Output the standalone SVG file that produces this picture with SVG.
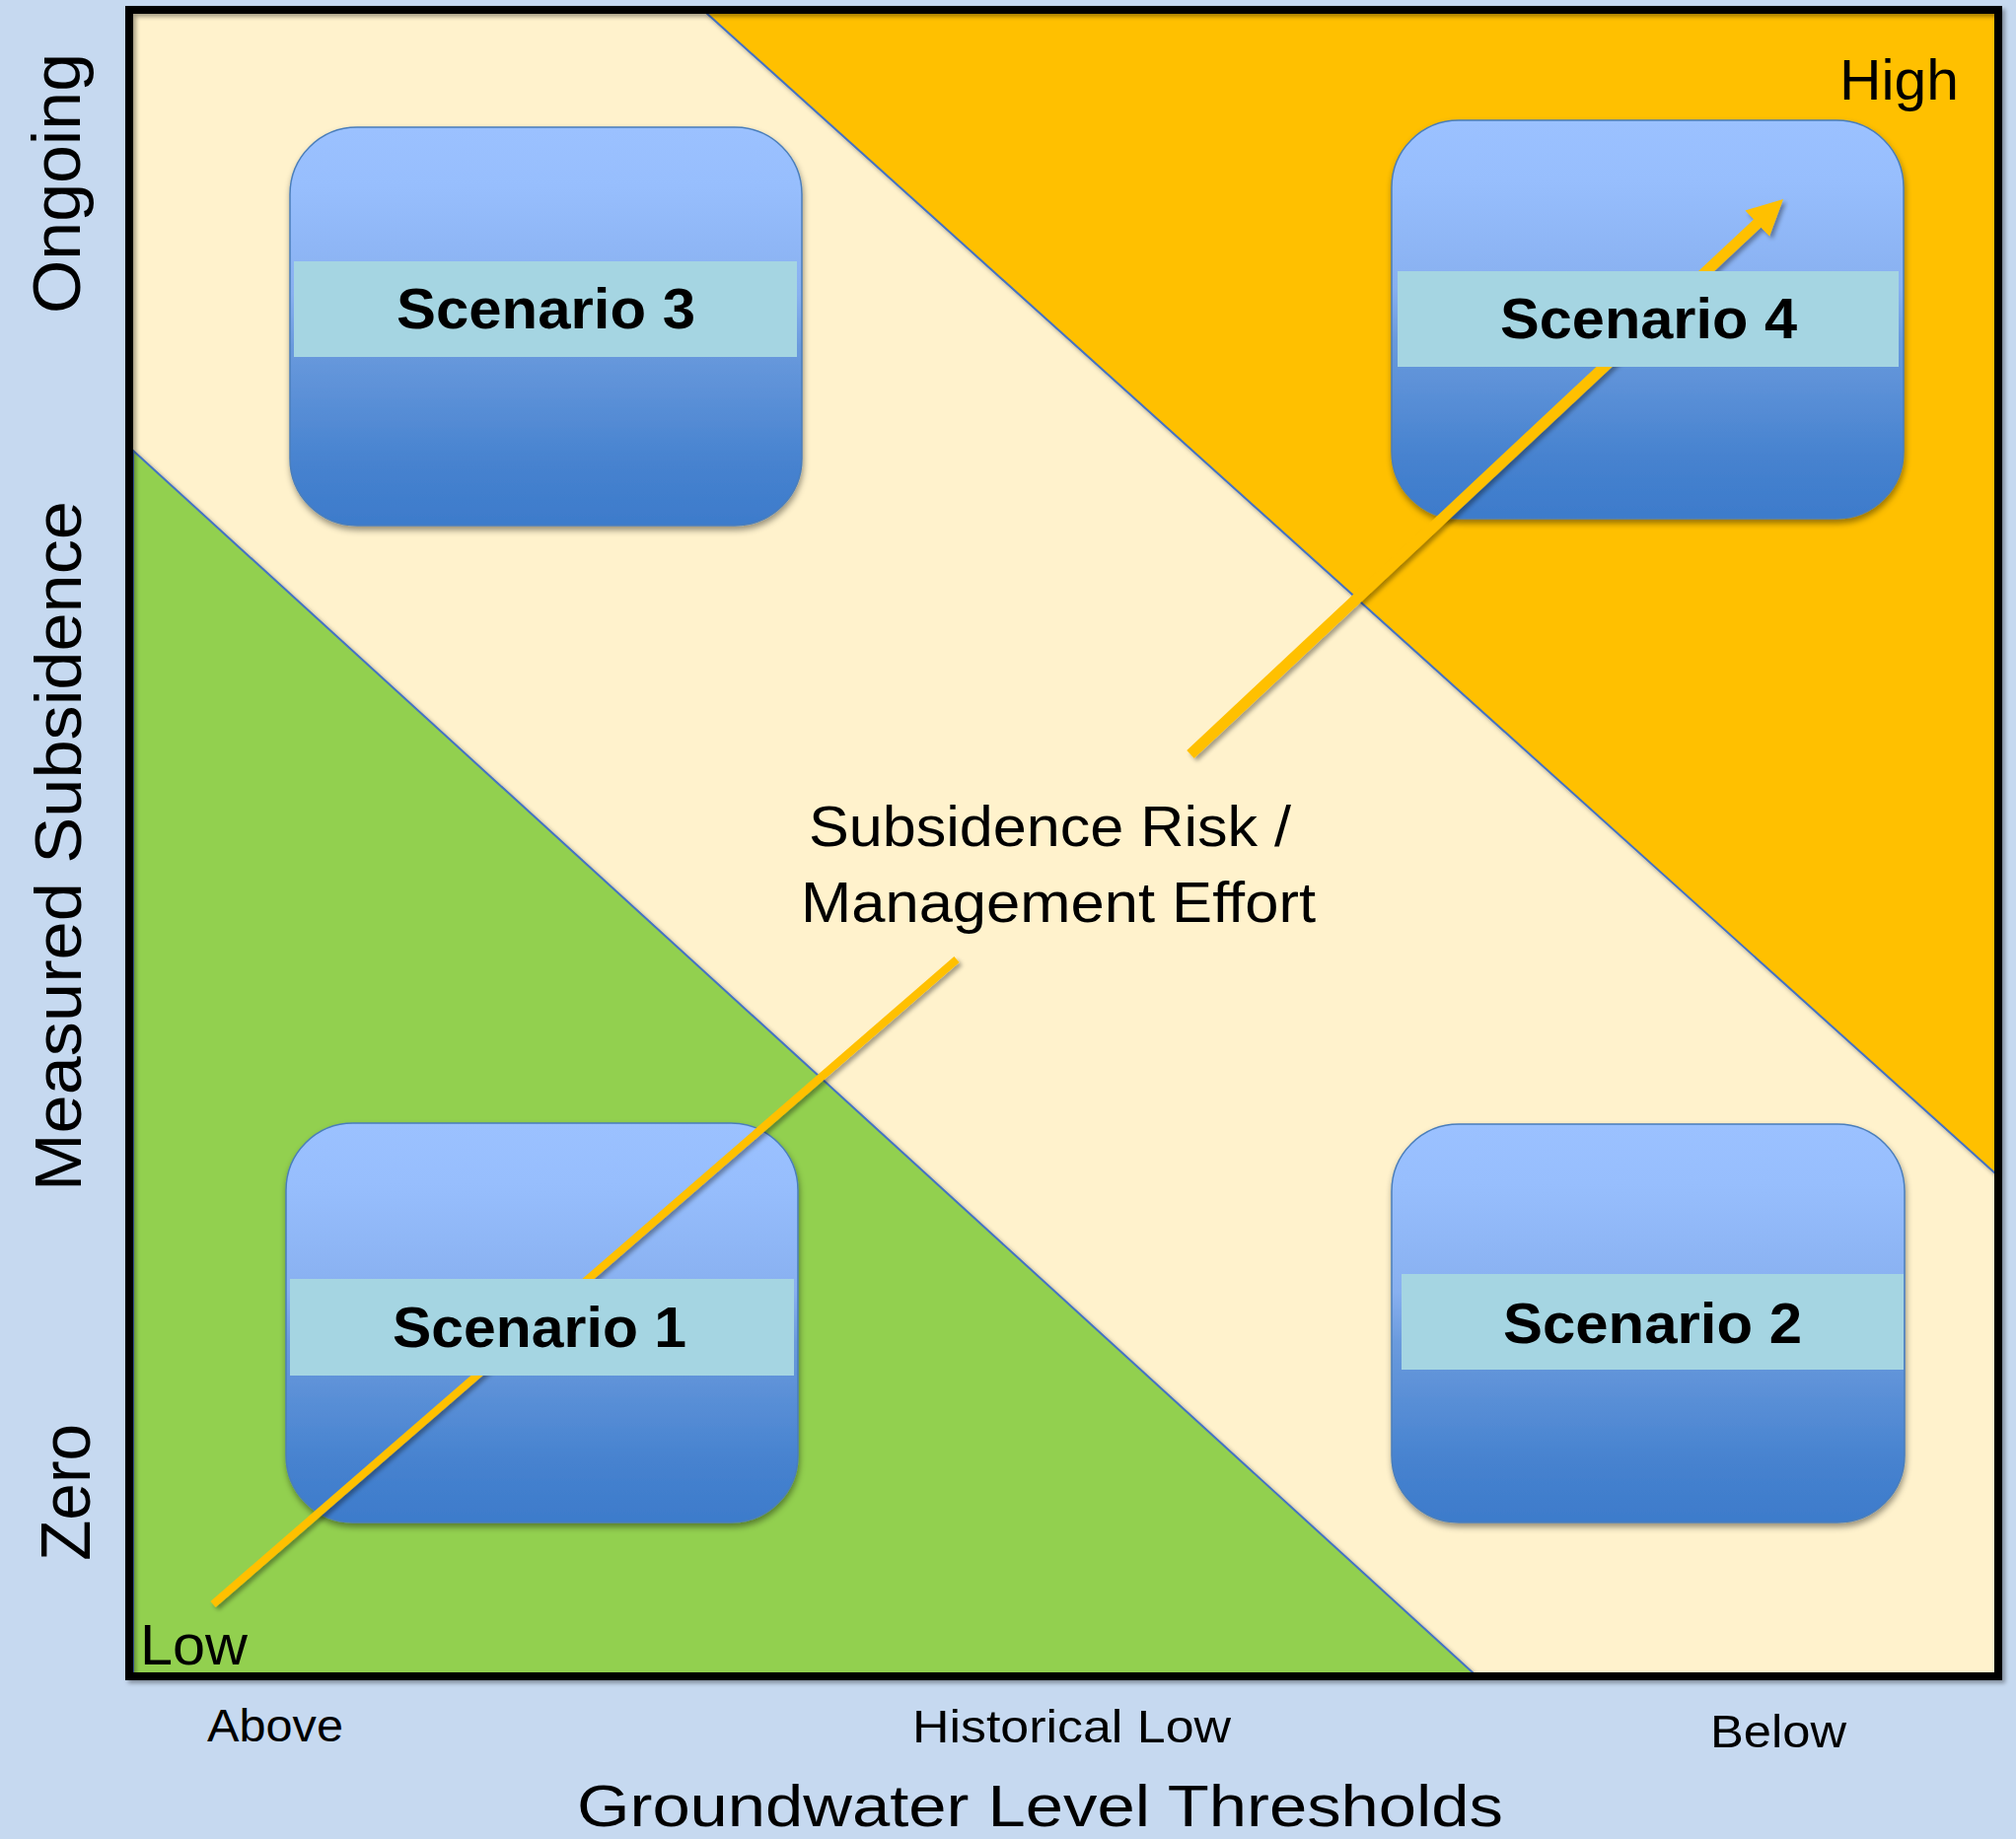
<svg xmlns="http://www.w3.org/2000/svg" width="2044" height="1865" viewBox="0 0 2044 1865">
<defs>
<linearGradient id="boxg" x1="0" y1="0" x2="0" y2="1">
<stop offset="0" stop-color="#9BC1FF"/>
<stop offset="0.15" stop-color="#97BEFD"/>
<stop offset="0.42" stop-color="#88B0F0"/>
<stop offset="0.55" stop-color="#6A9ADD"/>
<stop offset="0.85" stop-color="#4682CF"/>
<stop offset="1" stop-color="#3D7BCB"/>
</linearGradient>
<filter id="sh" x="-10%" y="-10%" width="120%" height="125%">
<feDropShadow dx="1" dy="4" stdDeviation="3" flood-color="#000" flood-opacity="0.4"/>
</filter>
<filter id="ash" x="-10%" y="-10%" width="120%" height="120%">
<feDropShadow dx="3" dy="3" stdDeviation="2" flood-color="#000" flood-opacity="0.35"/>
</filter>
<marker id="ah" markerUnits="userSpaceOnUse" markerWidth="40" markerHeight="40" viewBox="0 -20 40 40" refX="2" refY="0" orient="auto">
<path d="M0,-18 L36,0 L0,18 z" fill="#FFC000"/>
</marker>
<style>
.box{fill:url(#boxg);stroke:#4A7EBB;stroke-width:1.5;filter:url(#sh)}
.band{fill:#A5D5E2}
.lbl{font-family:"Liberation Sans",Arial,sans-serif;font-weight:bold;font-size:57px;fill:#000}
.t{font-family:"Liberation Sans",Arial,sans-serif;fill:#000}
.tri{stroke:#4472C4;stroke-width:2;filter:url(#ash)}
.arr{stroke:#FFC000;fill:none;stroke-linecap:butt}
</style>
</defs>
<rect x="0" y="0" width="2044" height="1865" fill="#C6D9F0"/>
<g id="plot">
<rect x="131" y="10" width="1895" height="1690" fill="#FFF2CC"/>
<polygon class="tri" points="135,457 1494,1697 135,1697" fill="#92D050"/>
<polygon class="tri" points="716,13 2023,13 2023,1190" fill="#FFC000"/>
<rect x="131" y="10" width="1895" height="1690" fill="none" stroke="#000" stroke-width="8" filter="url(#ash)"/>
</g>
<g id="scenario3"><rect class="box" x="294" y="129" width="519" height="404" rx="68" ry="68"/></g>
<g id="scenario4"><rect class="box" x="1411" y="122" width="519" height="404" rx="68" ry="68"/></g>
<g id="scenario1"><rect class="box" x="290" y="1139" width="519" height="405" rx="68" ry="68"/></g>
<g id="scenario2"><rect class="box" x="1411" y="1140" width="520" height="404" rx="68" ry="68"/></g>
<g id="connectors" filter="url(#ash)">
<line class="arr" x1="216" y1="1627" x2="970" y2="973" stroke-width="8"/>
<line class="arr" x1="1207" y1="765" x2="1783.2" y2="225.2" stroke-width="11" marker-end="url(#ah)"/>
</g>
<g id="scenario3-label"><rect class="band" x="298" y="265" width="510" height="97"/><text class="lbl" x="402" y="333" textLength="303" lengthAdjust="spacingAndGlyphs">Scenario 3</text></g>
<g id="scenario4-label"><rect class="band" x="1417" y="275" width="508" height="97"/><text class="lbl" x="1521" y="343" textLength="301" lengthAdjust="spacingAndGlyphs">Scenario 4</text></g>
<g id="scenario1-label"><rect class="band" x="294" y="1297" width="511" height="98"/><text class="lbl" x="398" y="1366" textLength="298" lengthAdjust="spacingAndGlyphs">Scenario 1</text></g>
<g id="scenario2-label"><rect class="band" x="1421" y="1292" width="509" height="97"/><text class="lbl" x="1524" y="1362" textLength="303" lengthAdjust="spacingAndGlyphs">Scenario 2</text></g>
<g id="labels">
<text class="t" x="1865" y="101" font-size="58" textLength="121" lengthAdjust="spacingAndGlyphs">High</text>
<text class="t" x="142" y="1688" font-size="58" textLength="109" lengthAdjust="spacingAndGlyphs">Low</text>
<text class="t" x="820" y="858" font-size="58" textLength="489" lengthAdjust="spacingAndGlyphs">Subsidence Risk /</text>
<text class="t" x="812" y="935" font-size="58" textLength="522" lengthAdjust="spacingAndGlyphs">Management Effort</text>
<text class="t" x="210" y="1766" font-size="47" textLength="138" lengthAdjust="spacingAndGlyphs">Above</text>
<text class="t" x="925" y="1767" font-size="47" textLength="323" lengthAdjust="spacingAndGlyphs">Historical Low</text>
<text class="t" x="1734" y="1772" font-size="47" textLength="138" lengthAdjust="spacingAndGlyphs">Below</text>
<text class="t" x="585" y="1852" font-size="60" textLength="939" lengthAdjust="spacingAndGlyphs">Groundwater Level Thresholds</text>
<text class="t" transform="translate(81,318) rotate(-90)" font-size="68" textLength="264" lengthAdjust="spacingAndGlyphs">Ongoing</text>
<text class="t" transform="translate(82,1208) rotate(-90)" font-size="66" textLength="700" lengthAdjust="spacingAndGlyphs">Measured  Subsidence</text>
<text class="t" transform="translate(91,1583) rotate(-90)" font-size="70" textLength="139" lengthAdjust="spacingAndGlyphs">Zero</text>
</g>
</svg>
